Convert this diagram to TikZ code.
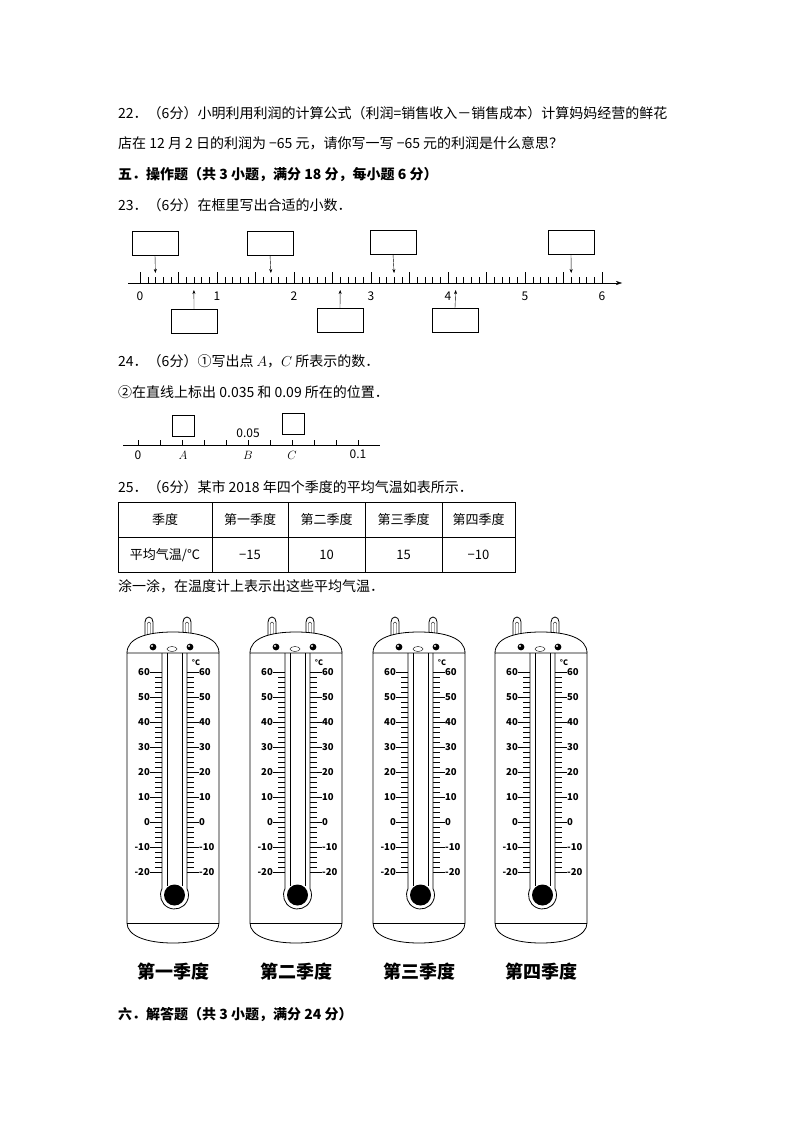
\documentclass[tikz,border=0pt]{standalone}
\usepackage{fontspec}
\setmainfont{Noto Sans CJK SC}
\usetikzlibrary{arrows.meta}
\begin{document}
\begin{tikzpicture}[x=1pt,y=-1pt,
  txt/.style={anchor=west,inner sep=0pt,font=\fontsize{14}{16}\selectfont},
  btxt/.style={anchor=west,inner sep=0pt,font=\fontsize{14}{16}\selectfont\bfseries},
  lbl/.style={inner sep=0pt,font=\fontsize{12}{13}\selectfont},
  tlbl/.style={inner sep=0pt,font=\fontsize{9.5}{10}\selectfont\bfseries},
  boxa/.style={draw,minimum width=46pt,minimum height=24pt,inner sep=0pt},
  boxb/.style={draw,minimum width=22pt,minimum height=21pt,inner sep=0pt},
  arr/.style={-{Stealth[length=4pt,width=3pt]}},
  cell/.style={inner sep=0pt,font=\fontsize{13}{15}\selectfont}]
\useasboundingbox (0,0) rectangle (794,1123);
\node[txt] (t1) at (118,113) {22．（6分）小明利用利润的计算公式（利润=销售收入－销售成本）计算妈妈经营的鲜花};
\node[txt] (t2) at (118,143) {店在 12 月 2 日的利润为 −65 元，请你写一写 −65 元的利润是什么意思？};
\node[btxt] (t3) at (118,175) {五．操作题（共 3 小题，满分 18 分，每小题 6 分）};
\node[txt] (t4) at (118,205) {23．（6分）在框里写出合适的小数．};
% number line 1
\coordinate (n1s) at (128,283); \coordinate (n1e) at (622,283);
\draw[-{Stealth[length=6pt,width=4pt]}] (n1s) -- (n1e);
\foreach \k in {0,...,60}{
  \pgfmathsetmacro{\xx}{140+7.7*\k}
  \pgfmathtruncatemacro{\mm}{mod(\k,5)}
  \ifnum\mm=0 \draw (\xx,283) -- (\xx,272); \else \draw (\xx,283) -- (\xx,277); \fi
}
\foreach \i in {0,...,6}{ \node[lbl] at ({140+77*\i},296) {\i}; }
\node[boxa] (u1) at (155,243) {}; \coordinate (p1) at (155.4,273); \draw[arr] (u1.south) -- (p1);
\node[boxa] (u2) at (270,243) {}; \coordinate (p2) at (270.9,273); \draw[arr] (u2.south) -- (p2);
\node[boxa] (u3) at (393,242) {}; \coordinate (p3) at (394.1,273); \draw[arr] (u3.south) -- (p3);
\node[boxa] (u4) at (571,242) {}; \coordinate (p4) at (571.2,273); \draw[arr] (u4.south) -- (p4);
\node[boxa] (d1) at (194,321) {}; \coordinate (q1) at (193.9,290); \draw[arr] (d1.north) -- (q1);
\node[boxa] (d2) at (340,320) {}; \coordinate (q2) at (340.2,290); \draw[arr] (d2.north) -- (q2);
\node[boxa] (d3) at (455,320) {}; \coordinate (q3) at (455.7,290); \draw[arr] (d3.north) -- (q3);
% 24
\node[txt] (t5) at (118,361) {24．（6分）①写出点 $A$，$C$ 所表示的数．};
\node[txt] (t6) at (118,392) {②在直线上标出 0.035 和 0.09 所在的位置．};
\draw (123,445) -- (380,445);
\foreach \k in {0,...,10}{ \draw ({138+22*\k},445) -- ({138+22*\k},440); }
\node[lbl] (l0) at (138,455) {0};
\node[lbl] (lA) at (183,455) {$A$};
\node[lbl] (lB) at (248,455) {$B$};
\node[lbl] (lC) at (292,455) {$C$};
\node[lbl] (l1) at (358,454) {0.1};
\node[lbl] (l05) at (248,433) {0.05};
\node[boxb] (bA) at (183,426) {};
\node[boxb] (bC) at (293,424) {};
% 25
\node[txt] (t7) at (118,487) {25．（6分）某市 2018 年四个季度的平均气温如表所示．};
\draw (118,502) rectangle (515,572);
\draw (118,537) -- (515,537);
\foreach \xx in {212,288,365,442}{ \draw (\xx,502) -- (\xx,572); }
\node[cell] at (165,520) {季度};
\node[cell] at (250,520) {第一季度};
\node[cell] at (326.5,520) {第二季度};
\node[cell] at (403.5,520) {第三季度};
\node[cell] at (478.5,520) {第四季度};
\node[cell] at (165,555) {平均气温/℃};
\node[cell] at (250,555) {−15};
\node[cell] at (326.5,555) {10};
\node[cell] at (403.5,555) {15};
\node[cell] at (478.5,555) {−10};
\node[txt] (t8) at (118,586) {涂一涂，在温度计上表示出这些平均气温．};
% thermometers
\foreach \L/\nm in {127/第一季度,250/第二季度,373/第三季度,495/第四季度}{
\begin{scope}[shift={(\L,0)}]
  \foreach \ex in {22,60}{
    \draw[line width=0.8pt] (\ex-4,636) -- (\ex-4,622) arc[start angle=180,end angle=360,x radius=4,y radius=5] -- (\ex+4,636);
    \draw (\ex-1.5,634) -- (\ex-1.5,624) arc[start angle=180,end angle=360,x radius=1.5,y radius=2] -- (\ex+1.5,634);
  }
  \filldraw[fill=white,line width=0.8pt] (0,653) .. controls (0,638) and (20,632) .. (46,632) .. controls (72,632) and (92,638) .. (92,653);
  \draw[line width=0.8pt] (0,653) -- (0,923) .. controls (0,936) and (20,943) .. (46,943) .. controls (72,943) and (92,936) .. (92,923) -- (92,653) -- cycle;
  \draw[line width=0.8pt] (0,923) -- (92,923);
  \fill (26,647) circle (3.4); \fill[white] (25,646) circle (1.1);
  \fill (63,647) circle (3.4); \fill[white] (62,646) circle (1.1);
  \draw (45,649) ellipse (5 and 2.5);
  \draw[line width=0.8pt] (35,653) -- (35,888.7) arc[start angle=206.7,end angle=-26.7,radius=14] -- (60,653);
  \draw (40,653) -- (40,886);
  \draw (55,653) -- (55,886);
  \fill (47.5,895) circle (10.5);
  \foreach \t in {-20,-18,...,60}{
    \pgfmathsetmacro{\yy}{872-(\t+20)*2.5}
    \pgfmathtruncatemacro{\mm}{mod(\t+20,10)}
    \ifnum\mm=0
      \draw (23,\yy) -- (35,\yy); \draw (60,\yy) -- (72,\yy);
      \node[tlbl,anchor=east] at (23,\yy) {\t};
      \node[tlbl,anchor=west] at (72,\yy) {\t};
    \else
      \draw (28,\yy) -- (35,\yy); \draw (60,\yy) -- (67,\yy);
    \fi
  }
  \node[tlbl,font=\fontsize{7.5}{8}\selectfont\bfseries] at (69,663) {°C};
  \node[inner sep=0pt,font=\fontsize{18}{20}\selectfont\bfseries] at (46,972) {\nm};
\end{scope}}
\node[btxt] (t9) at (118,1015) {六．解答题（共 3 小题，满分 24 分）};
\end{tikzpicture}
\end{document}
